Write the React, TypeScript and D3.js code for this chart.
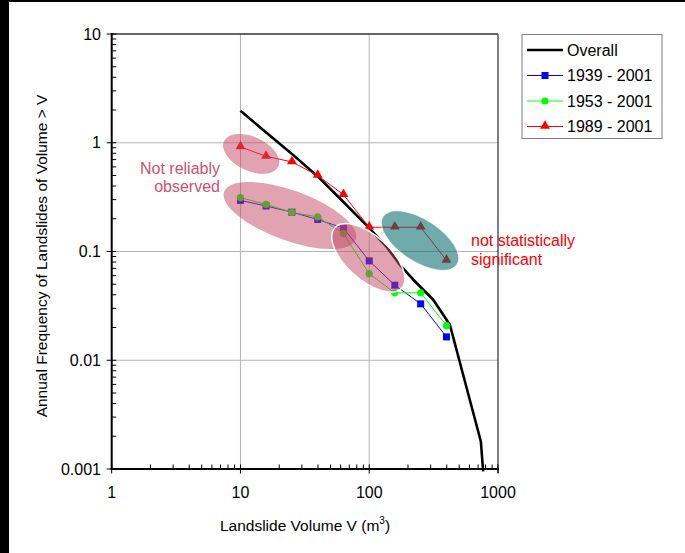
import { useEffect, useRef } from "react";
import * as d3 from "d3";

// chart size and plot box
const width = 685;
const height = 553;
const PLOT = { left: 111.7, right: 498, top: 34, bottom: 469 };
const FONT = "'Liberation Sans', Arial, sans-serif";

// data
const volumes = [10, 15.8, 25.1, 39.8, 63.1, 100, 158, 251, 398];
const freq1939 = [0.295, 0.262, 0.23, 0.197, 0.164, 0.082, 0.049, 0.033, 0.0164];
const freq1953 = [0.3125, 0.271, 0.229, 0.208, 0.146, 0.0625, 0.0417, 0.0417, 0.0208];
const freq1989 = [0.917, 0.75, 0.667, 0.5, 0.333, 0.167, 0.167, 0.167, 0.083];

const overallV = [10, 15.85, 25.1, 39.8, 63.1, 100, 136, 173, 220, 314, 423, 736, 767];
const overallF = [1.97, 1.24, 0.79, 0.49, 0.285, 0.164, 0.111, 0.0755, 0.055, 0.036, 0.0212, 0.00179, 0.00095];

const xTicks = [1, 10, 100, 1000];
const yTicks = [0.001, 0.01, 0.1, 1, 10];
const xTickLabels = ["1", "10", "100", "1000"];
const yTickLabels = ["0.001", "0.01", "0.1", "1", "10"];

const legendLabels = ["Overall", "1939 - 2001", "1953 - 2001", "1989 - 2001"];

// annotation ellipses: centre in data units, radii in px, rotation in degrees
const ellipseV = [12.1, 24.2, 98.4, 248];
const ellipseF = [0.79, 0.214, 0.0875, 0.126];
const ellipseRx = [30, 70, 45, 44];
const ellipseRy = [17, 25, 22, 21];
const ellipseRot = [25, 20, 42, 33];
const ellipseKind = ["pink", "pink", "pinkEdge", "teal"];

export default function App() {
  const svgRef = useRef(null);

  useEffect(() => {
    const svg = d3.select(svgRef.current);
    svg.selectAll("*").remove();

    const x = d3.scaleLog().domain([1, 1000]).range([PLOT.left, PLOT.right]);
    const y = d3.scaleLog().domain([0.001, 10]).range([PLOT.bottom, PLOT.top]);

    // black frame strips of the original picture
    svg.append("rect").attr("x", 0).attr("y", 0).attr("width", 9).attr("height", height).attr("fill", "#000");
    svg.append("rect").attr("x", 0).attr("y", 0).attr("width", width).attr("height", 2).attr("fill", "#000");

    // grid lines at decades
    const grid = svg.append("g").attr("stroke", "#b4b4b4").attr("stroke-width", 1);
    [10, 100].forEach((v) => {
      grid.append("line").attr("x1", x(v)).attr("x2", x(v)).attr("y1", PLOT.top).attr("y2", PLOT.bottom);
    });
    [0.01, 0.1, 1].forEach((f) => {
      grid.append("line").attr("x1", PLOT.left).attr("x2", PLOT.right).attr("y1", y(f)).attr("y2", y(f));
    });

    // top and right border
    svg.append("line").attr("x1", PLOT.left).attr("x2", PLOT.right).attr("y1", PLOT.top).attr("y2", PLOT.top)
      .attr("stroke", "#333").attr("stroke-width", 1.5);
    svg.append("line").attr("x1", PLOT.right).attr("x2", PLOT.right).attr("y1", PLOT.top).attr("y2", PLOT.bottom + 4)
      .attr("stroke", "#555").attr("stroke-width", 1.5);

    // series
    const line = d3.line().x((d) => x(d[0])).y((d) => y(d[1]));

    const overall = overallV.map((v, i) => [v, overallF[i]]);
    const s1939 = volumes.map((v, i) => [v, freq1939[i]]);
    const s1953 = volumes.map((v, i) => [v, freq1953[i]]);
    const s1989 = volumes.map((v, i) => [v, freq1989[i]]);

    svg.append("path").attr("d", line(overall)).attr("fill", "none").attr("stroke", "#000").attr("stroke-width", 2.6)
      .attr("stroke-linejoin", "round");

    svg.append("path").attr("d", line(s1939)).attr("fill", "none").attr("stroke", "#0000ff").attr("stroke-width", 1);
    svg.append("g").selectAll("rect").data(s1939).join("rect")
      .attr("x", (d) => x(d[0]) - 3.5).attr("y", (d) => y(d[1]) - 3.5)
      .attr("width", 7).attr("height", 7).attr("fill", "#0000ff");

    svg.append("path").attr("d", line(s1953)).attr("fill", "none").attr("stroke", "#00ff00").attr("stroke-width", 1);
    svg.append("g").selectAll("circle").data(s1953).join("circle")
      .attr("cx", (d) => x(d[0])).attr("cy", (d) => y(d[1])).attr("r", 3.6).attr("fill", "#00ff00");

    const tri = d3.symbol().type(d3.symbolTriangle).size(42);
    svg.append("path").attr("d", line(s1989)).attr("fill", "none").attr("stroke", "#ff0000").attr("stroke-width", 1);
    svg.append("g").selectAll("path").data(s1989).join("path")
      .attr("d", tri()).attr("transform", (d) => `translate(${x(d[0])},${y(d[1]) - 0.5})`).attr("fill", "#ff0000");

    // annotation ellipses over the series
    ellipseV.forEach((v, i) => {
      const kind = ellipseKind[i];
      const e = svg.append("ellipse")
        .attr("transform", `translate(${x(v)},${y(ellipseF[i])}) rotate(${ellipseRot[i]})`)
        .attr("rx", ellipseRx[i]).attr("ry", ellipseRy[i]);
      if (kind === "teal") {
        e.attr("fill", "rgb(10,108,108)").attr("fill-opacity", 0.58)
          .attr("stroke", "#fff").attr("stroke-opacity", 0.6).attr("stroke-width", 1);
      } else {
        e.attr("fill", "rgb(196,70,100)").attr("fill-opacity", 0.5);
        if (kind === "pinkEdge") e.attr("stroke", "#fff").attr("stroke-width", 1.5);
      }
    });

    // axes (left, bottom)
    const axes = svg.append("g").attr("stroke", "#000");
    axes.append("line").attr("x1", PLOT.left).attr("x2", PLOT.left).attr("y1", PLOT.top - 1).attr("y2", PLOT.bottom + 1)
      .attr("stroke-width", 2);
    axes.append("line").attr("x1", PLOT.left - 1).attr("x2", PLOT.right + 1).attr("y1", PLOT.bottom).attr("y2", PLOT.bottom)
      .attr("stroke-width", 2);

    const minorX = [];
    [1, 10, 100].forEach((d) => { for (let k = 2; k <= 9; k++) minorX.push(d * k); });
    const minorY = [];
    [0.001, 0.01, 0.1, 1].forEach((d) => { for (let k = 2; k <= 9; k++) minorY.push(d * k); });

    minorX.forEach((v) => {
      axes.append("line").attr("x1", x(v)).attr("x2", x(v)).attr("y1", PLOT.bottom).attr("y2", PLOT.bottom - 4.5).attr("stroke-width", 1);
    });
    xTicks.forEach((v) => {
      axes.append("line").attr("x1", x(v)).attr("x2", x(v)).attr("y1", PLOT.bottom - 4.5).attr("y2", PLOT.bottom + 4.5).attr("stroke-width", 1);
    });
    minorY.forEach((f) => {
      axes.append("line").attr("x1", PLOT.left).attr("x2", PLOT.left + 4.5).attr("y1", y(f)).attr("y2", y(f)).attr("stroke-width", 1);
    });
    yTicks.forEach((f) => {
      axes.append("line").attr("x1", PLOT.left - 5).attr("x2", PLOT.left + 4.5).attr("y1", y(f)).attr("y2", y(f)).attr("stroke-width", 1);
    });

    // tick labels
    const labels = svg.append("g").attr("font-family", FONT).attr("font-size", 16).attr("fill", "#000");
    xTicks.forEach((v, i) => {
      labels.append("text").attr("x", x(v)).attr("y", 498).attr("text-anchor", "middle").text(xTickLabels[i]);
    });
    yTicks.forEach((f, i) => {
      labels.append("text").attr("x", 101).attr("y", y(f) + 5.5).attr("text-anchor", "end").text(yTickLabels[i]);
    });

    // axis titles
    const xt = labels.append("text").attr("x", 305).attr("y", 531).attr("text-anchor", "middle").attr("font-size", 15.5);
    xt.append("tspan").text("Landslide Volume V (m");
    xt.append("tspan").attr("font-size", 10).attr("dy", -7).text("3");
    xt.append("tspan").attr("dy", 7).text(")");

    labels.append("text").attr("transform", "translate(47,256) rotate(-90)").attr("text-anchor", "middle")
      .attr("font-size", 15.5).text("Annual Frequency of Landslides of Volume > V");

    // annotation texts
    const pinkText = svg.append("g").attr("font-family", FONT).attr("font-size", 16).attr("fill", "#d0506e")
      .attr("text-anchor", "end");
    pinkText.append("text").attr("x", 220).attr("y", 173.5).text("Not reliably");
    pinkText.append("text").attr("x", 220).attr("y", 192).text("observed");

    const redText = svg.append("g").attr("font-family", FONT).attr("font-size", 16).attr("fill", "#ff0000");
    redText.append("text").attr("x", 471).attr("y", 246).text("not statistically");
    redText.append("text").attr("x", 471).attr("y", 265).text("significant");

    // legend
    const lg = svg.append("g").attr("font-family", FONT).attr("font-size", 16);
    lg.append("rect").attr("x", 522).attr("y", 34.5).attr("width", 140).attr("height", 104)
      .attr("fill", "#fff").attr("stroke", "#808080").attr("stroke-width", 1);
    const rowY = [50, 75.5, 101, 126.5];
    const colors = ["#000", "#0000ff", "#00ff00", "#ff0000"];
    legendLabels.forEach((lab, i) => {
      const yy = rowY[i];
      lg.append("line").attr("x1", 527).attr("x2", 563).attr("y1", yy).attr("y2", yy)
        .attr("stroke", colors[i]).attr("stroke-width", i === 0 ? 2.6 : 1);
      if (i === 1) lg.append("rect").attr("x", 541.5).attr("y", yy - 3.5).attr("width", 7).attr("height", 7).attr("fill", colors[i]);
      if (i === 2) lg.append("circle").attr("cx", 545).attr("cy", yy).attr("r", 3.6).attr("fill", colors[i]);
      if (i === 3) lg.append("path").attr("d", tri()).attr("transform", `translate(545,${yy - 0.5})`).attr("fill", colors[i]);
      lg.append("text").attr("x", 567).attr("y", yy + 5.8).attr("fill", "#000").text(lab);
    });
  }, []);

  return (
    <div style={{ position: "absolute", left: 0, top: 0 }}>
      <svg width={width} height={height} ref={svgRef} style={{ display: "block", background: "#fff" }} />
    </div>
  );
}
